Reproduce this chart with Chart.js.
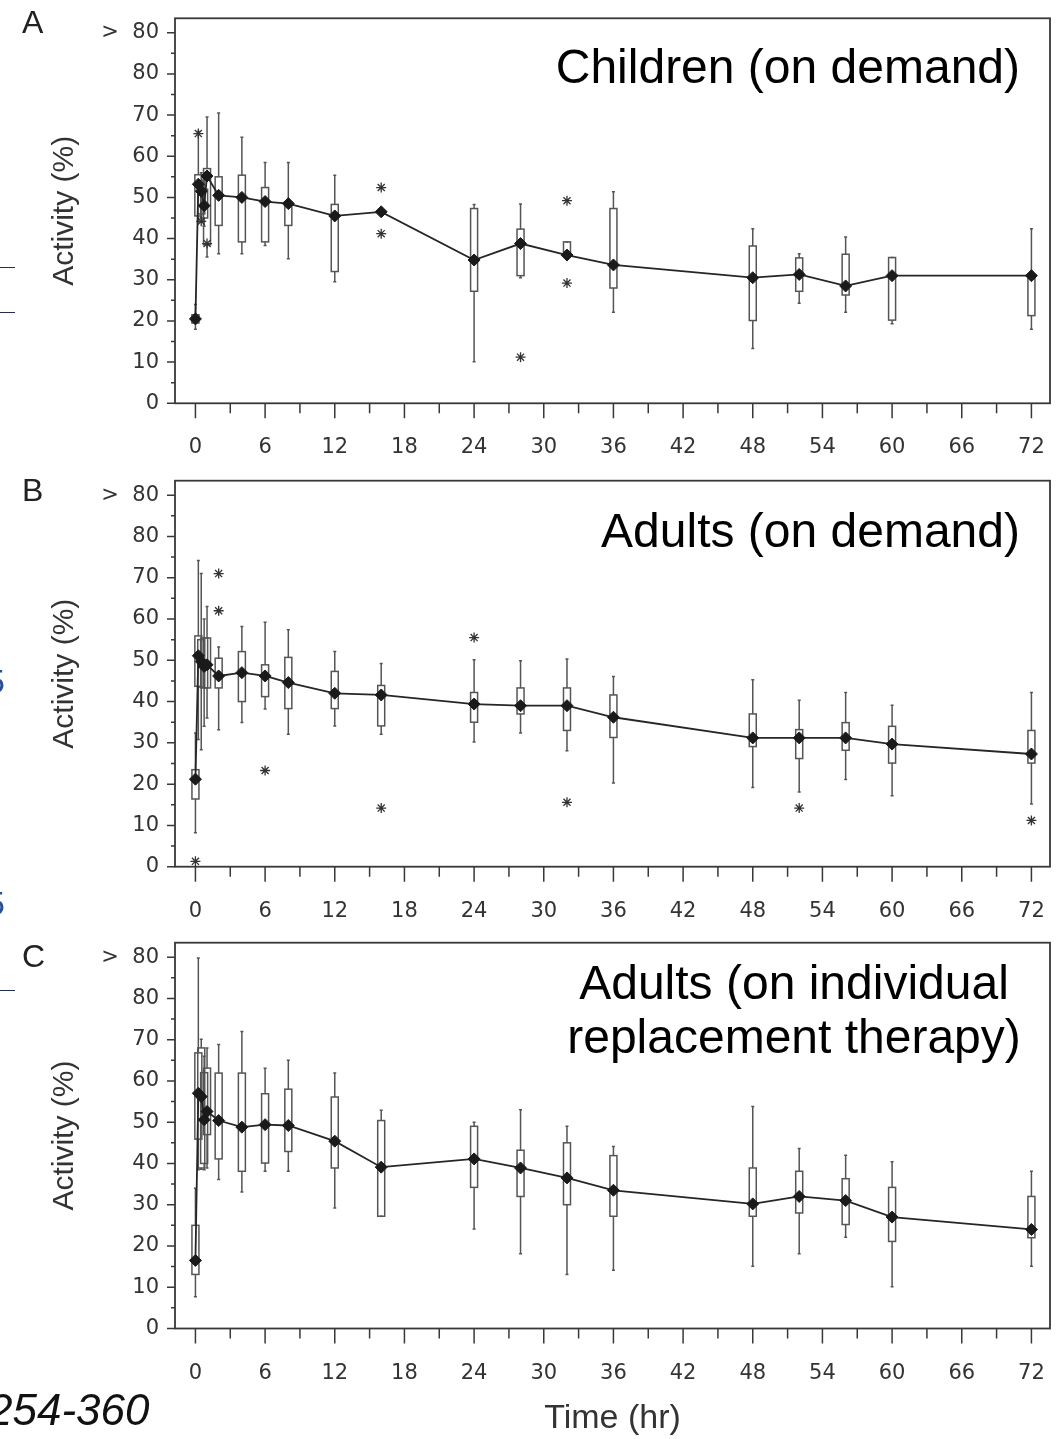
<!DOCTYPE html>
<html>
<head>
<meta charset="utf-8">
<script src="https://cdn.jsdelivr.net/npm/chart.js@4.4.1/dist/chart.umd.min.js"></script>
<style>
  html, body { margin: 0; padding: 0; background: #fff; }
  #page { position: relative; width: 1057px; height: 1439px; overflow: hidden; font-family: "Liberation Sans", Arial, sans-serif; }
  .panel { position: absolute; left: 0; width: 1057px; }
  .letter { position: absolute; left: 22px; font-size: 32px; line-height: 1; color: #222; }
  .label { position: absolute; font-size: 48px; line-height: 54px; color: #000; white-space: nowrap; }
  .frag { position: absolute; background: #22304f; height: 1px; left: 0; width: 15px; }
  .fragtxt { position: absolute; color: #2a4f9a; font-size: 34px; line-height: 1; }
</style>
</head>
<body>
<div id="page">
  <div class="panel" style="top:0;height:470px"><canvas id="chartA"></canvas></div>
  <div class="panel" style="top:470px;height:463px"><canvas id="chartB"></canvas></div>
  <div class="panel" style="top:933px;height:506px"><canvas id="chartC"></canvas></div>

  <div class="letter" style="top:6px">A</div>
  <div class="letter" style="top:474px">B</div>
  <div class="letter" style="top:940px">C</div>

  <div class="label" style="right:37px;top:40px">Children (on demand)</div>
  <div class="label" style="right:37px;top:504px">Adults (on demand)</div>
  <div class="label" style="left:494px;width:600px;text-align:center;top:956px">Adults (on individual<br>replacement therapy)</div>

  <div class="frag" style="top:267px"></div>
  <div class="frag" style="top:312px"></div>
  <div class="frag" style="top:990px"></div>
  <div class="fragtxt" style="left:-14px;top:664px">5</div>
  <div class="fragtxt" style="left:-14px;top:886px">5</div>
  <div style="position:absolute;left:-12px;top:1388px;font-size:44px;line-height:1;font-style:italic;color:#111">254-360</div>
</div>

<script>
// time points (hr)
const times = [0, 0.25, 0.5, 0.75, 1, 2, 4, 6, 8, 12, 16, 24, 28, 32, 36, 48, 52, 56, 60, 72];
const xTicks = [0, 6, 12, 18, 24, 30, 36, 42, 48, 54, 60, 66, 72];
const yTicks = [0, 10, 20, 30, 40, 50, 60, 70, 80, 90];
const yTickLabels = ['0', '10', '20', '30', '40', '50', '60', '70', '80', '>  80'];

// A - children, on demand
const medA = [20.5, 53.2, 51.5, 48, 55.2, 50.5, 50, 49, 48.5, 45.5, 46.5, 34.8, 38.8, 36, 33.6, 30.5, 31.3, 28.5, 31, 31];
const q1A  = [19.5, 45.5, 46, 45, 38.5, 43.2, 39.2, 39.2, 43.2, 32, null, 27.2, 31, 36, 28, 20.1, 27.2, 26.3, 20.2, 21.3];
const q3A  = [21.5, 55.5, 54, 52, 57, 55, 55.4, 52.4, 48.5, 48.3, null, 47.3, 42.3, 39.2, 47.3, 38.2, 35.3, 36.2, 35.4, 31];
const loA  = [18, 44, 45, 43, 35.5, 36.3, 36.3, 38.3, 35.1, 29.5, null, 10.1, 30.5, 36, 22.1, 13.3, 24.3, 22.1, 19.3, 18];
const hiA  = [24, 66, 56, 55, 69.5, 70.5, 64.6, 58.5, 58.5, 55.4, null, 48.3, 48.4, 39.2, 51.4, 42.4, 36.3, 40.4, 35.4, 42.4];
const outTA = [0.25, 0.5, 1, 16, 16, 28, 32, 32];
const outVA = [65.5, 44.2, 38.8, 52.4, 41.2, 11.2, 49.2, 29.2];

// B - adults, on demand
const medB = [21.2, 51.1, 49.7, 48.5, 48.9, 46.2, 47, 46.2, 44.6, 42, 41.6, 39.4, 39, 39, 36.2, 31.2, 31.2, 31.2, 29.7, 27.3];
const q1B  = [16.4, 43.7, 43.5, 43.3, 43.3, 43.3, 40, 41.2, 38.3, 38.3, 34.1, 35, 37, 33, 31.3, 29.1, 26.2, 28.2, 25.1, 25.1];
const q3B  = [23.5, 55.9, 55, 55.4, 55.4, 50.5, 52.1, 48.9, 50.7, 47.3, 43.9, 42.2, 43.3, 43.3, 41.6, 37, 33.2, 34.9, 34, 33];
const loB  = [8.2, 30.8, 28.3, 34, 36, 33.2, 34.9, 38.2, 32.1, 34.1, 32.1, 30.2, 32.4, 28.1, 20.3, 19.2, 18.1, 21.1, 17.2, 15.2];
const hiB  = [32.4, 74.2, 71, 60, 63, 53.2, 58.2, 59.2, 57.4, 52.1, 49.2, 50.1, 49.9, 50.3, 46.1, 45.3, 40.3, 42.2, 39.1, 42.2];
const outTB = [0, 2, 2, 6, 16, 24, 32, 52, 72];
const outVB = [1.3, 71, 62, 23.3, 14.2, 55.5, 15.6, 14.2, 11.2];

// C - adults, individual replacement therapy
const medC = [16.5, 57, 56.2, 50.6, 52.6, 50.4, 48.8, 49.4, 49.2, 45.4, 39.1, 41.1, 38.9, 36.5, 33.5, 30.2, 32, 31, 27, 24];
const q1C  = [13.1, 45.9, 38.9, 40, 47, 41.1, 38.1, 40.1, 42.9, 38.9, 27.2, 34.2, 32, 30, 27.2, 27.2, 28, 25.2, 21.1, 22];
const q3C  = [25, 66.8, 68, 62, 63.1, 61.9, 61.9, 56.9, 58, 56.1, 50.4, 49, 43.2, 45, 41.9, 38.9, 38.1, 36.3, 34.2, 32];
const loC  = [7.7, 38.5, 38.6, 38.5, 38.9, 36.1, 33.1, 38.1, 38.1, 29.2, 27.2, 24.1, 18.1, 13.1, 14.1, 15.1, 18.1, 22.1, 10.1, 15.1];
const hiC  = [34, 89.8, 70.1, 66, 68, 68.8, 72, 63.1, 65, 61.9, 52.9, 50, 53, 49, 44.1, 53.8, 43.6, 42, 40.4, 38.1];
const outTC = [];
const outVC = [];

// box + whisker drawing, frame and minor ticks
const boxPlot = {
    id: 'boxPlot',
    beforeDatasetsDraw(chart, args, o) {
        const { ctx, scales: { x, y } } = chart;
        ctx.save();
        ctx.strokeStyle = '#555';
        ctx.lineWidth = 1.5;
        times.forEach((t, i) => {
            if (o.q1[i] == null) return;
            const px = x.getPixelForValue(t);
            const p1 = y.getPixelForValue(o.q1[i]), p3 = y.getPixelForValue(o.q3[i]);
            const pl = y.getPixelForValue(o.lo[i]), ph = y.getPixelForValue(o.hi[i]);
            ctx.beginPath();
            ctx.moveTo(px, ph); ctx.lineTo(px, p3);
            ctx.moveTo(px, p1); ctx.lineTo(px, pl);
            ctx.moveTo(px - 1.5, ph); ctx.lineTo(px + 1.5, ph);
            ctx.moveTo(px - 1.5, pl); ctx.lineTo(px + 1.5, pl);
            ctx.stroke();
            ctx.strokeRect(px - 3.5, p3, 7, p1 - p3);
        });
        ctx.restore();
    },
    afterDraw(chart) {
        const { ctx, chartArea: a, scales: { x, y } } = chart;
        ctx.save();
        ctx.strokeStyle = '#383838';
        ctx.lineWidth = 1.8;
        ctx.strokeRect(a.left, a.top, a.right - a.left, a.bottom - a.top);
        ctx.lineWidth = 1.5;
        ctx.beginPath();
        y.ticks.forEach((tk, i) => {
            const py = y.getPixelForValue(tk.value);
            ctx.moveTo(a.left - 8, py); ctx.lineTo(a.left, py);
            if (i < y.ticks.length - 1) {
                const pm = y.getPixelForValue((tk.value + y.ticks[i + 1].value) / 2);
                ctx.moveTo(a.left - 4, pm); ctx.lineTo(a.left, pm);
            }
        });
        x.ticks.forEach((tk, i) => {
            const px = x.getPixelForValue(tk.value);
            ctx.moveTo(px, a.bottom); ctx.lineTo(px, a.bottom + 15);
            if (i < x.ticks.length - 1) {
                const pm = x.getPixelForValue((tk.value + x.ticks[i + 1].value) / 2);
                ctx.moveTo(pm, a.bottom); ctx.lineTo(pm, a.bottom + 10);
            }
        });
        ctx.stroke();
        ctx.restore();
    }
};

function makePanel(id, med, q1, q3, lo, hi, outT, outV, topPad, xAxisH, showXTitle) {
    new Chart(document.getElementById(id), {
        data: {
            datasets: [
                {
                    type: 'line',
                    data: times.map((t, i) => ({ x: t, y: med[i] })),
                    borderColor: '#262626',
                    borderWidth: 1.8,
                    tension: 0,
                    pointStyle: 'rectRot',
                    pointRadius: 6,
                    pointBackgroundColor: '#1a1a1a',
                    pointBorderColor: '#1a1a1a',
                    pointBorderWidth: 1
                },
                {
                    type: 'scatter',
                    data: outT.map((t, i) => ({ x: t, y: outV[i] })),
                    pointStyle: 'star',
                    pointRadius: 5,
                    borderColor: '#333',
                    borderWidth: 1.3,
                    showLine: false
                }
            ]
        },
        options: {
            responsive: true,
            maintainAspectRatio: false,
            devicePixelRatio: 1,
            animation: false,
            layout: { padding: { top: topPad, right: 0, left: 0, bottom: 0 } },
            plugins: {
                legend: { display: false },
                tooltip: { enabled: false },
                boxPlot: { q1: q1, q3: q3, lo: lo, hi: hi }
            },
            scales: {
                x: {
                    type: 'linear',
                    min: -1.76,
                    max: 73.6,
                    afterBuildTicks: s => { s.ticks = xTicks.map(v => ({ value: v })); },
                    afterFit: s => { s.height = xAxisH; s.paddingLeft = 0; s.paddingRight = 0; },
                    grid: { drawOnChartArea: false, drawTicks: false },
                    border: { display: false },
                    ticks: {
                        padding: 32,
                        autoSkip: false,
                        maxRotation: 0,
                        color: '#333',
                        font: { family: 'DejaVu Sans', size: 21 }
                    },
                    title: {
                        display: showXTitle,
                        text: 'Time (hr)',
                        color: '#333',
                        font: { family: 'Liberation Sans', size: 34 },
                        padding: { top: 0, bottom: 0 }
                    }
                },
                y: {
                    type: 'linear',
                    min: 0,
                    max: 93.5,
                    afterBuildTicks: s => { s.ticks = yTicks.map(v => ({ value: v })); },
                    afterFit: s => { s.width = 175; s.paddingTop = 0; s.paddingBottom = 0; },
                    grid: { drawOnChartArea: false, drawTicks: false },
                    border: { display: false },
                    ticks: {
                        padding: 16,
                        autoSkip: false,
                        color: '#333',
                        font: { family: 'DejaVu Sans', size: 21 },
                        callback: (v, i) => yTickLabels[i]
                    },
                    title: {
                        display: true,
                        text: 'Activity (%)',
                        color: '#333',
                        font: { family: 'Liberation Sans', size: 30 },
                        padding: { top: 47, bottom: 0 }
                    }
                }
            }
        },
        plugins: [boxPlot]
    });
}

makePanel('chartA', medA, q1A, q3A, loA, hiA, outTA, outVA, 18.3, 66.7, false);
makePanel('chartB', medB, q1B, q3B, loB, hiB, outTB, outVB, 10.7, 66.3, false);
makePanel('chartC', medC, q1C, q3C, loC, hiC, outTC, outVC, 9.7, 110.5, true);
</script>
</body>
</html>
